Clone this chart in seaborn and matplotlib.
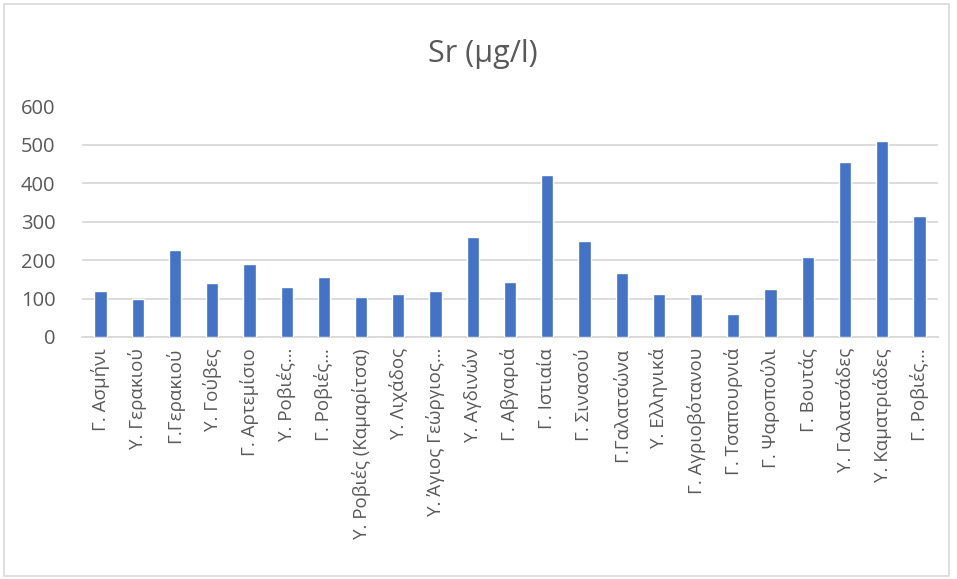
import matplotlib
matplotlib.use("Agg")
import matplotlib.pyplot as plt
import seaborn as sns
import pandas as pd
from matplotlib.patches import Rectangle

stations = [
    "Γ. Ασμήνι", "Υ. Γερακιού", "Γ.Γερακιού", "Υ. Γούβες", "Γ. Αρτεμίσιο",
    "Υ. Ροβιές…", "Γ. Ροβιές…", "Υ. Ροβιές (Καμαρίτσα)", "Υ. Λιχάδος",
    "Υ. Άγιος Γεώργιος…", "Υ. Αγδινών", "Γ. Αβγαριά", "Γ. Ιστιαία",
    "Γ. Σινασού", "Γ.Γαλατσώνα", "Υ. Ελληνικά", "Γ. Αγριοβότανου",
    "Γ. Τσαπουρνιά", "Γ. Ψαροπούλι", "Γ. Βουτάς", "Υ. Γαλατσάδες",
    "Υ. Καματριάδες", "Γ. Ροβιές…",
]
sr_values = [120, 100, 227, 141, 190, 130, 157, 104, 111, 120, 261, 144,
             421, 250, 167, 111, 113, 60, 126, 207, 455, 511, 314]
y_ticks = [0, 100, 200, 300, 400, 500, 600]

df = pd.DataFrame({"station": range(len(stations)), "sr": sr_values})

sns.set_theme(style="white")
plt.rcParams["font.family"] = ["Open Sans", "DejaVu Sans"]

fig = plt.figure(figsize=(9.57, 5.79), dpi=100)
ax = fig.add_axes([82 / 957, 1 - 337 / 579, (938 - 82) / 957, (337 - 106.5) / 579])

sns.barplot(data=df, x="station", y="sr", color="#4472C4", width=0.33,
            saturation=1, ax=ax, zorder=3)

ax.set_ylim(0, 600)
ax.set_yticks(y_ticks)
ax.set_xlim(-0.5, len(stations) - 0.5)
ax.yaxis.grid(True, color="#D9D9D9", linewidth=1.3, zorder=0)
ax.set_axisbelow(True)
for side in ["top", "right", "left"]:
    ax.spines[side].set_visible(False)
ax.spines["bottom"].set_color("#D9D9D9")
ax.spines["bottom"].set_linewidth(1.3)
ax.set_xlabel("")
ax.set_ylabel("")
ax.set_xticks(range(len(stations)))
ax.set_xticklabels(stations, rotation=90, fontsize=13.5, color="#595959")
ax.tick_params(axis="y", labelsize=14.5, labelcolor="#595959", length=0, pad=19)
ax.tick_params(axis="x", length=0, pad=8)

fig.text(0.505, 1 - 54 / 579, "Sr (μg/l)", ha="center", va="center",
         fontsize=22, color="#595959")

fig.patches.append(Rectangle((4 / 957, 3 / 579), 945 / 957, 572 / 579,
                             transform=fig.transFigure, fill=False,
                             edgecolor="#D9D9D9", linewidth=1.2))

fig.savefig("out.png", dpi=100)
